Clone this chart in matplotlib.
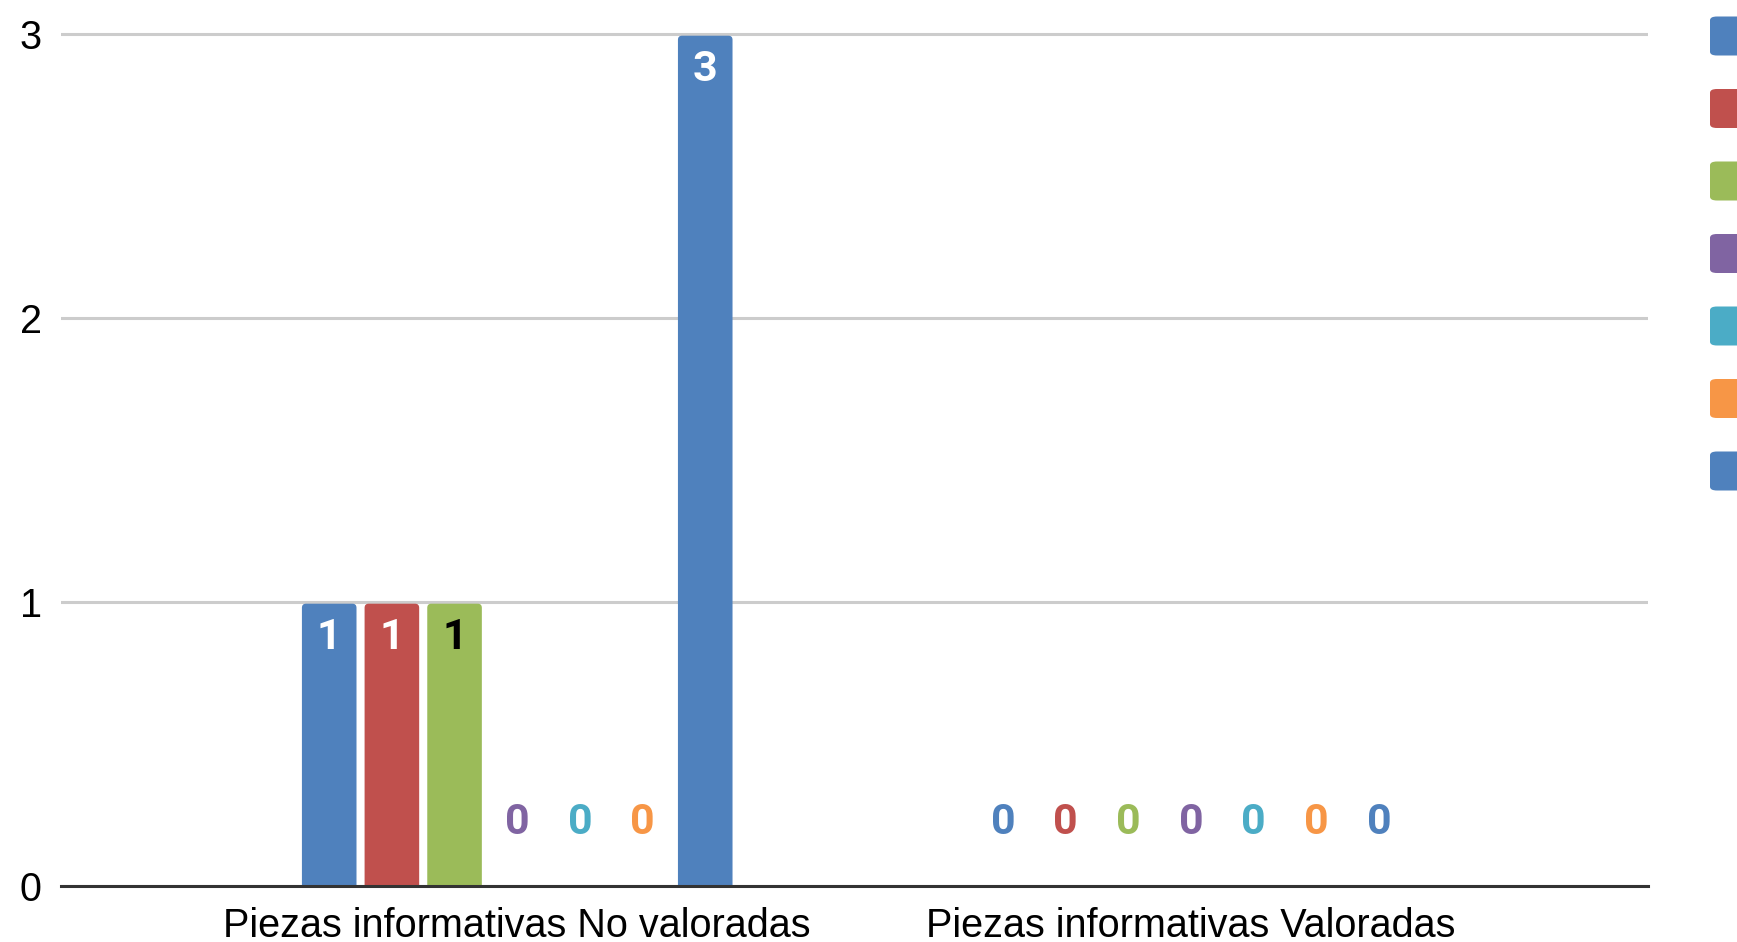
import matplotlib
matplotlib.use("Agg")
import matplotlib.pyplot as plt
import numpy as np
from matplotlib.patches import FancyBboxPatch

categories = ["Piezas informativas No valoradas", "Piezas informativas Valoradas"]
series_colors = ["#4F81BD", "#C0504D", "#9BBB59", "#8064A2", "#4BACC6", "#F79646", "#4F81BD"]
series_values = [
    [1, 0],
    [1, 0],
    [1, 0],
    [0, 0],
    [0, 0],
    [0, 0],
    [3, 0],
]
label_inside_colors = ["white", "white", "black", "white", "white", "black", "white"]
y_ticks = [0, 1, 2, 3]

W, H = 1737, 942
fig = plt.figure(figsize=(W / 100, H / 100), dpi=100)
ymax = 3.02
ax = fig.add_axes([61 / W, 56 / H, (1648 - 61) / W, (852 * ymax / 3) / H])

n = len(series_values)
step = 0.093
width = 0.081
x = np.arange(len(categories))
label_font = dict(family=["Roboto", "DejaVu Sans"], fontweight="bold", fontsize=31)

for i, (vals, col) in enumerate(zip(series_values, series_colors)):
    pos = x + (i - (n - 1) / 2) * step
    for xp, v in zip(pos, vals):
        if v > 0:
            # rounded top corners; bottom goes below the axis so it is clipped
            ax.add_patch(FancyBboxPatch((xp - width / 2, -0.05), width, v + 0.05 - 0.006,
                                        boxstyle="round,pad=0,rounding_size=0.006",
                                        mutation_aspect=2.37,
                                        facecolor=col, edgecolor="none", zorder=3))
            ax.text(xp, v - 0.125, str(v), ha="center", va="center",
                    color=label_inside_colors[i], zorder=4, **label_font)
        else:
            ax.text(xp, 0.222, str(v), ha="center", va="center",
                    color=col, zorder=4, **label_font)

ax.set_xlim(-0.677, 1.678)
ax.set_ylim(0, ymax)
ax.set_yticks(y_ticks)
ax.set_yticklabels([str(t) for t in y_ticks], family=["Liberation Sans"], fontsize=28.5)
ax.set_xticks(x)
ax.set_xticklabels(categories, family=["Liberation Sans"], fontsize=28.5)
ax.tick_params(axis="both", length=0)
ax.tick_params(axis="y", pad=14)
ax.tick_params(axis="x", pad=15)
for s in ["top", "right", "left"]:
    ax.spines[s].set_visible(False)
ax.spines["bottom"].set_color("#333333")
ax.spines["bottom"].set_linewidth(2.2)
ax.spines["bottom"].set_zorder(5)
ax.grid(axis="y", color="#cccccc", linewidth=2.2, zorder=0)
ax.set_axisbelow(True)

# legend swatches (text is cut off on the right in the original)
for i, col in enumerate(series_colors):
    cy = 36 + i * 72.5
    fig.patches.append(FancyBboxPatch((1710 / W, (H - cy - 19.5) / H), 40 / W, 39 / H,
                                      boxstyle="round,pad=0,rounding_size=0.004",
                                      transform=fig.transFigure, facecolor=col,
                                      edgecolor="none"))

fig.savefig("out.png", dpi=100, facecolor="white")
